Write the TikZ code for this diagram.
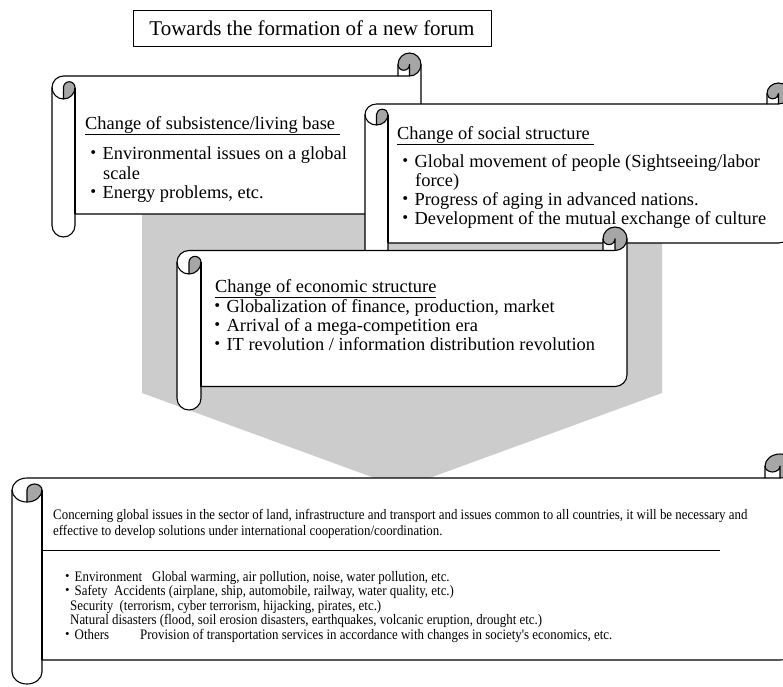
\documentclass[tikz,border=0pt]{standalone}
\usepackage{fontspec}
\setmainfont{Liberation Serif}
\newfontfamily\cjk{Noto Sans CJK JP}
\newfontfamily\condfont[FakeStretch=0.89]{Liberation Serif}
\definecolor{arrowgray}{RGB}{204,204,204}
\definecolor{curlgray}{RGB}{166,166,166}
\newcommand{\bul}{\smash{{\cjk ・}}}
\tikzset{
  scrollline/.style={line width=1.1pt, draw=black},
  txt/.style={anchor=base west, inner sep=0pt, font=\fontsize{18.4}{20}\selectfont},
  small/.style={anchor=base west, inner sep=0pt, font=\condfont\fontsize{14.5}{15}\selectfont},
}
% L, T, R, B, chx, chy  (pixel coordinates, y downward)
\newcommand{\scrollshape}[6]{%
 \pgfmathsetmacro\Lx{#1}\pgfmathsetmacro\Ty{#2}\pgfmathsetmacro\Rx{#3}\pgfmathsetmacro\By{#4}%
 \pgfmathsetmacro\ax{#5/2}\pgfmathsetmacro\aq{#5/4}\pgfmathsetmacro\ay{#6/2}\pgfmathsetmacro\bq{#6/4}%
 \pgfmathsetmacro\xa{\Lx+\ax}\pgfmathsetmacro\xb{\Lx+#5}%
 \pgfmathsetmacro\xc{\Rx-#5}\pgfmathsetmacro\xd{\Rx-\ax}%
 \pgfmathsetmacro\ya{\Ty+\ay}\pgfmathsetmacro\yb{\Ty+#6}%
 \pgfmathsetmacro\yc{\Ty+1.5*#6}\pgfmathsetmacro\yd{\Ty+2*#6}%
 \pgfmathsetmacro\ye{\By-1.5*#6}\pgfmathsetmacro\yf{\By-#6}\pgfmathsetmacro\yg{\By-\ay}%
 \fill[white] (\Lx,\yc) arc[start angle=180,end angle=270,x radius=\ax,y radius=\ay] -- (\xc,\yb) -- (\xc,\ya) arc[start angle=180,end angle=360,x radius=\ax,y radius=\ay] -- (\Rx,\ye) arc[start angle=0,end angle=90,x radius=\ax,y radius=\ay] -- (\xb,\yf) -- (\xb,\yg) arc[start angle=0,end angle=180,x radius=\ax,y radius=\ay] -- cycle;
 \fill[curlgray] (\xa,\yd) arc[start angle=90,end angle=0,x radius=\ax,y radius=\ay] arc[start angle=0,end angle=-180,x radius=\aq,y radius=\bq] -- cycle;
 \fill[curlgray] (\xd,\yb) arc[start angle=90,end angle=-180,x radius=\ax,y radius=\ay] arc[start angle=180,end angle=0,x radius=\aq,y radius=\bq] -- cycle;
 \draw[scrollline] (\Lx,\yc) arc[start angle=180,end angle=270,x radius=\ax,y radius=\ay] -- (\xc,\yb) -- (\xc,\ya) arc[start angle=180,end angle=360,x radius=\ax,y radius=\ay] -- (\Rx,\ye) arc[start angle=0,end angle=90,x radius=\ax,y radius=\ay] -- (\xb,\yf) -- (\xb,\yg) arc[start angle=0,end angle=180,x radius=\ax,y radius=\ay] -- cycle;
 \draw[scrollline] (\xc,\yb) -- (\xd,\yb) arc[start angle=90,end angle=0,x radius=\ax,y radius=\ay];
 \draw[scrollline] (\xd,\yb) -- (\xd,\ya) arc[start angle=0,end angle=180,x radius=\aq,y radius=\bq];
 \draw[scrollline] (\xa,\yd) -- (\xa,\yc) arc[start angle=180,end angle=360,x radius=\aq,y radius=\bq] arc[start angle=0,end angle=180,x radius=\ax,y radius=\ay];
 \draw[scrollline] (\xb,\yc) -- (\xb,\yf);
}
\begin{document}
\begin{tikzpicture}[x=1pt,y=-1pt,line join=round]
\useasboundingbox (0,0) rectangle (783,686);
\clip (0,0) rectangle (783,686);
\fill[white] (0,0) rectangle (783,686);

% title
\node[draw, line width=1pt, minimum width=358pt, minimum height=36pt, inner sep=0pt,
      font=\fontsize{21}{24}\selectfont] (title) at (312,28) {Towards the formation of a new forum};

% big gray arrow
\fill[arrowgray] (142,150) -- (662,150) -- (662,393) -- (402,488) -- (142,393) -- cycle;

% scroll 1
\scrollshape{52}{53}{421}{237}{23}{23}
\node[txt] (s1t) at (85,129) {\underline{Change of subsistence/living base\ }};
\node[txt] (s1a) at (84,159) {\bul Environmental issues on a global};
\node[txt] (s1b) at (103,179) {scale};
\node[txt] (s1c) at (84,198.5) {\bul Energy problems, etc.};

% scroll 2
\scrollshape{365}{83}{790}{264}{23}{21}
\node[txt] (s2t) at (397,139) {\underline{Change of social structure\ }};
\node[txt] (s2a) at (396,167.5) {\bul Global movement of people (Sightseeing/labor};
\node[txt] (s2b) at (415,186) {force)};
\node[txt] (s2c) at (396,205) {\bul Progress of aging in advanced nations.};
\node[txt] (s2d) at (396,224) {\bul Development of the mutual exchange of culture};

% scroll 3
\scrollshape{177}{227}{627}{410}{24}{23.5}
\node[txt] (s3t) at (215,292) {\underline{Change of economic structure}};
\node[txt] (s3a) at (208,312) {\bul Globalization of finance, production, market};
\node[txt] (s3b) at (208,331) {\bul Arrival of a mega-competition era};
\node[txt] (s3c) at (208,350) {\bul IT revolution / information distribution revolution};

% bottom scroll
\scrollshape{12}{454}{795}{684}{30}{24}
\node[small] (b1) at (53,519) {Concerning global issues in the sector of land, infrastructure and transport and issues common to all countries, it will be necessary and};
\node[small] (b2) at (53,535) {effective to develop solutions under international cooperation/coordination.};
\draw[line width=1pt] (42,550) -- (720,550);
\node[small] (b3) at (60,581) {\bul Environment};
\node[small] (b3d) at (152,581) {Global warming, air pollution, noise, water pollution, etc.};
\node[small] (b4) at (60,595.5) {\bul Safety\ \ Accidents (airplane, ship, automobile, railway, water quality, etc.)};
\node[small] (b5) at (70,610) {Security\ \ (terrorism, cyber terrorism, hijacking, pirates, etc.)};
\node[small] (b6) at (70,624.5) {Natural disasters (flood, soil erosion disasters, earthquakes, volcanic eruption, drought etc.)};
\node[small] (b7) at (60,639) {\bul Others};
\node[small] (b7d) at (140,639) {Provision of transportation services in accordance with changes in society's economics, etc.};
\end{tikzpicture}
\end{document}
